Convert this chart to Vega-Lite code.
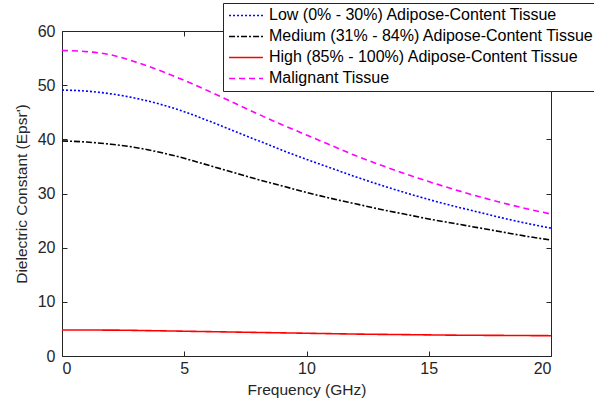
{
  "$schema": "https://vega.github.io/schema/vega-lite/v6.json",
  "width": 489,
  "height": 325,
  "autosize": {"type": "none"},
  "padding": {"left": 62, "top": 31, "right": 43, "bottom": 46},
  "background": "white",
  "config": {
    "font": "Liberation Sans",
    "view": {"stroke": "#262626", "strokeWidth": 1},
    "axis": {
      "grid": false,
      "domain": false,
      "zindex": 1,
      "tickColor": "#262626",
      "tickWidth": 1,
      "labelColor": "#262626",
      "titleColor": "#262626",
      "labelFontSize": 16,
      "titleFontSize": 15.5,
      "titleFontWeight": "normal",
      "labelFont": "Liberation Sans",
      "titleFont": "Liberation Sans",
      "tickSize": 5
    }
  },
  "resolve": {"axis": {"x": "independent", "y": "independent"}},
  "data": {
    "values": [
      {"f": 0, "s": "Malignant Tissue", "v": 56.4},
      {"f": 1, "s": "Malignant Tissue", "v": 56.2},
      {"f": 2, "s": "Malignant Tissue", "v": 55.6},
      {"f": 3, "s": "Malignant Tissue", "v": 54.3},
      {"f": 4, "s": "Malignant Tissue", "v": 52.7},
      {"f": 5, "s": "Malignant Tissue", "v": 50.9},
      {"f": 6, "s": "Malignant Tissue", "v": 48.9},
      {"f": 7, "s": "Malignant Tissue", "v": 46.8},
      {"f": 8, "s": "Malignant Tissue", "v": 44.7},
      {"f": 9, "s": "Malignant Tissue", "v": 42.7},
      {"f": 10, "s": "Malignant Tissue", "v": 40.8},
      {"f": 11, "s": "Malignant Tissue", "v": 38.9},
      {"f": 12, "s": "Malignant Tissue", "v": 37.0},
      {"f": 13, "s": "Malignant Tissue", "v": 35.3},
      {"f": 14, "s": "Malignant Tissue", "v": 33.7},
      {"f": 15, "s": "Malignant Tissue", "v": 32.2},
      {"f": 16, "s": "Malignant Tissue", "v": 30.8},
      {"f": 17, "s": "Malignant Tissue", "v": 29.5},
      {"f": 18, "s": "Malignant Tissue", "v": 28.3},
      {"f": 19, "s": "Malignant Tissue", "v": 27.2},
      {"f": 20, "s": "Malignant Tissue", "v": 26.2},
      {"f": 0, "s": "Low (0% - 30%) Adipose-Content Tissue", "v": 49.1},
      {"f": 1, "s": "Low (0% - 30%) Adipose-Content Tissue", "v": 48.9},
      {"f": 2, "s": "Low (0% - 30%) Adipose-Content Tissue", "v": 48.4},
      {"f": 3, "s": "Low (0% - 30%) Adipose-Content Tissue", "v": 47.6},
      {"f": 4, "s": "Low (0% - 30%) Adipose-Content Tissue", "v": 46.5},
      {"f": 5, "s": "Low (0% - 30%) Adipose-Content Tissue", "v": 45.1},
      {"f": 6, "s": "Low (0% - 30%) Adipose-Content Tissue", "v": 43.4},
      {"f": 7, "s": "Low (0% - 30%) Adipose-Content Tissue", "v": 41.6},
      {"f": 8, "s": "Low (0% - 30%) Adipose-Content Tissue", "v": 39.8},
      {"f": 9, "s": "Low (0% - 30%) Adipose-Content Tissue", "v": 38.0},
      {"f": 10, "s": "Low (0% - 30%) Adipose-Content Tissue", "v": 36.3},
      {"f": 11, "s": "Low (0% - 30%) Adipose-Content Tissue", "v": 34.7},
      {"f": 12, "s": "Low (0% - 30%) Adipose-Content Tissue", "v": 33.1},
      {"f": 13, "s": "Low (0% - 30%) Adipose-Content Tissue", "v": 31.6},
      {"f": 14, "s": "Low (0% - 30%) Adipose-Content Tissue", "v": 30.2},
      {"f": 15, "s": "Low (0% - 30%) Adipose-Content Tissue", "v": 28.9},
      {"f": 16, "s": "Low (0% - 30%) Adipose-Content Tissue", "v": 27.7},
      {"f": 17, "s": "Low (0% - 30%) Adipose-Content Tissue", "v": 26.6},
      {"f": 18, "s": "Low (0% - 30%) Adipose-Content Tissue", "v": 25.5},
      {"f": 19, "s": "Low (0% - 30%) Adipose-Content Tissue", "v": 24.5},
      {"f": 20, "s": "Low (0% - 30%) Adipose-Content Tissue", "v": 23.6},
      {"f": 0, "s": "Medium (31% - 84%) Adipose-Content Tissue", "v": 39.7},
      {"f": 1, "s": "Medium (31% - 84%) Adipose-Content Tissue", "v": 39.5},
      {"f": 2, "s": "Medium (31% - 84%) Adipose-Content Tissue", "v": 39.1},
      {"f": 3, "s": "Medium (31% - 84%) Adipose-Content Tissue", "v": 38.5},
      {"f": 4, "s": "Medium (31% - 84%) Adipose-Content Tissue", "v": 37.6},
      {"f": 5, "s": "Medium (31% - 84%) Adipose-Content Tissue", "v": 36.5},
      {"f": 6, "s": "Medium (31% - 84%) Adipose-Content Tissue", "v": 35.2},
      {"f": 7, "s": "Medium (31% - 84%) Adipose-Content Tissue", "v": 33.9},
      {"f": 8, "s": "Medium (31% - 84%) Adipose-Content Tissue", "v": 32.6},
      {"f": 9, "s": "Medium (31% - 84%) Adipose-Content Tissue", "v": 31.4},
      {"f": 10, "s": "Medium (31% - 84%) Adipose-Content Tissue", "v": 30.2},
      {"f": 11, "s": "Medium (31% - 84%) Adipose-Content Tissue", "v": 29.1},
      {"f": 12, "s": "Medium (31% - 84%) Adipose-Content Tissue", "v": 28.1},
      {"f": 13, "s": "Medium (31% - 84%) Adipose-Content Tissue", "v": 27.1},
      {"f": 14, "s": "Medium (31% - 84%) Adipose-Content Tissue", "v": 26.2},
      {"f": 15, "s": "Medium (31% - 84%) Adipose-Content Tissue", "v": 25.3},
      {"f": 16, "s": "Medium (31% - 84%) Adipose-Content Tissue", "v": 24.5},
      {"f": 17, "s": "Medium (31% - 84%) Adipose-Content Tissue", "v": 23.7},
      {"f": 18, "s": "Medium (31% - 84%) Adipose-Content Tissue", "v": 22.9},
      {"f": 19, "s": "Medium (31% - 84%) Adipose-Content Tissue", "v": 22.1},
      {"f": 20, "s": "Medium (31% - 84%) Adipose-Content Tissue", "v": 21.4},
      {"f": 0, "s": "High (85% - 100%) Adipose-Content Tissue", "v": 4.8},
      {"f": 2, "s": "High (85% - 100%) Adipose-Content Tissue", "v": 4.78},
      {"f": 4, "s": "High (85% - 100%) Adipose-Content Tissue", "v": 4.65},
      {"f": 6, "s": "High (85% - 100%) Adipose-Content Tissue", "v": 4.5},
      {"f": 8, "s": "High (85% - 100%) Adipose-Content Tissue", "v": 4.35},
      {"f": 10, "s": "High (85% - 100%) Adipose-Content Tissue", "v": 4.2},
      {"f": 12, "s": "High (85% - 100%) Adipose-Content Tissue", "v": 4.05},
      {"f": 14, "s": "High (85% - 100%) Adipose-Content Tissue", "v": 3.95},
      {"f": 16, "s": "High (85% - 100%) Adipose-Content Tissue", "v": 3.85},
      {"f": 18, "s": "High (85% - 100%) Adipose-Content Tissue", "v": 3.8},
      {"f": 20, "s": "High (85% - 100%) Adipose-Content Tissue", "v": 3.75}
    ]
  },
  "layer": [
    {
      "mark": {"type": "line", "opacity": 0},
      "encoding": {
        "x": {
          "field": "f", "type": "quantitative",
          "scale": {"domain": [0, 20], "nice": false},
          "axis": {"orient": "bottom", "title": null, "labels": false, "offset": -5, "values": [0, 5, 10, 15, 20]}
        },
        "y": {
          "field": "v", "type": "quantitative",
          "scale": {"domain": [0, 60], "nice": false},
          "axis": {"orient": "left", "title": null, "labels": false, "offset": -5, "values": [0, 10, 20, 30, 40, 50, 60]}
        },
        "detail": {"field": "s"}
      }
    },
    {
      "mark": {"type": "line", "opacity": 0},
      "encoding": {
        "x": {
          "field": "f", "type": "quantitative",
          "axis": {"orient": "top", "title": null, "labels": false, "offset": -5, "values": [0, 5, 10, 15, 20]}
        },
        "y": {
          "field": "v", "type": "quantitative",
          "axis": {"orient": "right", "title": null, "labels": false, "offset": -5, "values": [0, 10, 20, 30, 40, 50, 60]}
        },
        "detail": {"field": "s"}
      }
    },
    {
      "mark": {"type": "line", "strokeWidth": 1.6, "interpolate": "monotone"},
      "encoding": {
        "x": {
          "field": "f", "type": "quantitative",
          "axis": {"orient": "bottom", "title": "Frequency (GHz)", "ticks": false, "values": [0, 5, 10, 15, 20], "labelPadding": 4, "titlePadding": 6}
        },
        "y": {
          "field": "v", "type": "quantitative",
          "axis": {"orient": "left", "title": "Dielectric Constant (Epsr')", "ticks": false, "values": [0, 10, 20, 30, 40, 50, 60], "labelPadding": 7, "titlePadding": 8}
        },
        "color": {
          "field": "s", "type": "nominal",
          "scale": {
            "domain": ["Low (0% - 30%) Adipose-Content Tissue", "Medium (31% - 84%) Adipose-Content Tissue", "High (85% - 100%) Adipose-Content Tissue", "Malignant Tissue"],
            "range": ["#0000ff", "#000000", "#ff0000", "#ff00ff"]
          },
          "legend": {
            "title": null,
            "orient": "none",
            "legendX": 161,
            "legendY": -28,
            "fillColor": "white",
            "strokeColor": "#262626",
            "padding": 2,
            "symbolOffset": 3,
            "labelFontSize": 16,
            "labelColor": "#000000",
            "labelFont": "Liberation Sans",
            "symbolType": "stroke",
            "symbolSize": 1150,
            "symbolStrokeWidth": 1.5,
            "clipHeight": 20.8,
            "rowPadding": 0,
            "labelOffset": 5,
            "labelLimit": 400
          }
        },
        "strokeDash": {
          "field": "s", "type": "nominal",
          "scale": {
            "domain": ["Low (0% - 30%) Adipose-Content Tissue", "Medium (31% - 84%) Adipose-Content Tissue", "High (85% - 100%) Adipose-Content Tissue", "Malignant Tissue"],
            "range": [[2, 2], [6, 2, 2, 2], [1, 0], [6, 4]]
          },
          "legend": null
        }
      }
    }
  ]
}
